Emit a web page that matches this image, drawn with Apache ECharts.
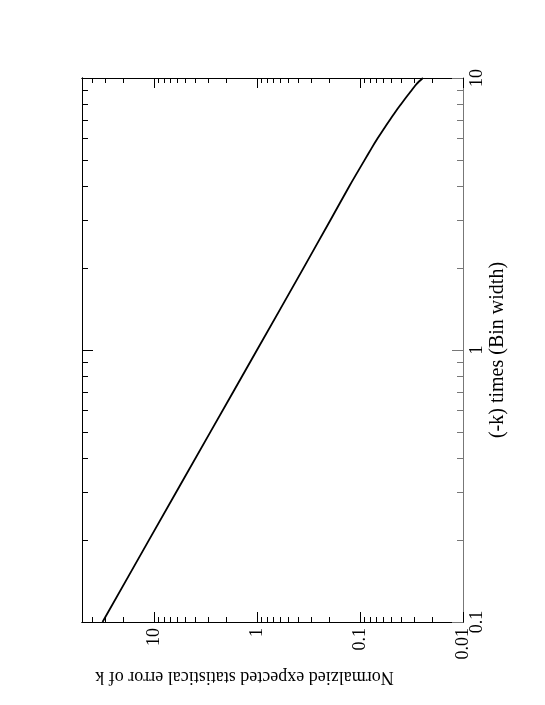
<!DOCTYPE html>
<html>
<head>
<meta charset="utf-8">
<script src="https://cdn.jsdelivr.net/npm/echarts@6/dist/echarts.min.js"></script>
<style>
  html, body { margin: 0; padding: 0; background: #fff; }
  #chart { width: 545px; height: 705px; }
</style>
</head>
<body>
<div id="chart"></div>
<script>
// (-k) times bin width (runs up the page)
var kWidth = [0.1, 0.2, 0.5, 1, 2, 3, 4, 5, 5.5, 6, 6.5, 7, 7.5, 8, 8.5, 9, 9.5, 10];
// normalized expected statistical error of k (runs right to left)
var errK = [31.6, 11.2, 2.83, 1.0, 0.354, 0.194, 0.127, 0.090, 0.0776, 0.0674, 0.0588, 0.0515, 0.0454, 0.0401, 0.0356, 0.0316, 0.0283, 0.0245];

var errMajor = [0.01, 0.1, 1, 10];
var errLabels = ['0.01', '0.1', '1', '10'];
var errMinor = [0.02, 0.03, 0.04, 0.05, 0.06, 0.07, 0.08, 0.09,
                0.2, 0.3, 0.4, 0.5, 0.6, 0.7, 0.8, 0.9,
                2, 3, 4, 5, 6, 7, 8, 9, 20, 30, 40];
var kMajor = [0.1, 1, 10];
var kLabels = ['0.1', '1', '10'];
var kMinor = [0.2, 0.3, 0.4, 0.5, 0.6, 0.7, 0.8, 0.9,
              2, 3, 4, 5, 6, 7, 8, 9];

var font = "'Liberation Serif', 'DejaVu Serif', serif";

var points = [];
for (var i = 0; i < kWidth.length; i++) {
  points.push([errK[i], kWidth[i]]);
}

// horizontal log axis (error), drawn inverted
function errAxis(pos, ticks, len, withLabel) {
  var ax = {
    type: 'log', logBase: 10, min: 0.01, max: 50, inverse: true,
    position: pos,
    splitLine: { show: false },
    axisLine: { show: true, lineStyle: { color: '#000', width: 1 } },
    axisTick: { show: true, inside: true, length: len, customValues: ticks,
                lineStyle: { color: '#000', width: 1 } },
    axisLabel: { show: false }
  };
  if (withLabel) {
    ax.axisLabel = {
      show: true, rotate: 90, margin: 6, customValues: errMajor,
      fontFamily: font, fontSize: 18, color: '#000',
      formatter: function (v) {
        var idx = errMajor.indexOf(+v);
        return idx >= 0 ? errLabels[idx] : '';
      }
    };
    ax.name = 'Normalzied expected statistical error of k';
    ax.nameLocation = 'middle';
    ax.nameRotate = 180;
    ax.nameGap = 46;
    ax.nameMoveOverlap = false;
    ax.nameTextStyle = { fontFamily: font, fontSize: 18, color: '#000', padding: [0, 0, 0, 56] };
  }
  return ax;
}

// vertical log axis ((-k) x bin width)
function kAxis(pos, ticks, len, withLabel) {
  var col = pos === 'right' ? '#777' : '#000';
  var ax = {
    type: 'log', logBase: 10, min: 0.1, max: 10,
    position: pos,
    splitLine: { show: false },
    axisLine: { show: true, lineStyle: { color: col, width: 1 } },
    axisTick: { show: true, inside: true, length: len, customValues: ticks,
                lineStyle: { color: col, width: 1 } },
    axisLabel: { show: false }
  };
  if (withLabel) {
    ax.axisLabel = {
      show: true, rotate: 90, margin: 5, customValues: kMajor,
      fontFamily: font, fontSize: 18, color: '#000',
      formatter: function (v) {
        var idx = kMajor.indexOf(+v);
        return idx >= 0 ? kLabels[idx] : '';
      }
    };
    ax.name = '(-k) times (Bin width)';
    ax.nameLocation = 'middle';
    ax.nameRotate = 90;
    ax.nameGap = 25;
    ax.nameMoveOverlap = false;
    ax.nameTextStyle = { fontFamily: font, fontSize: 20, color: '#000' };
  }
  return ax;
}

var chart = echarts.init(document.getElementById('chart'), null, { renderer: 'canvas' });
chart.setOption({
  backgroundColor: '#fff',
  animation: false,
  grid: { left: 82, right: 82, top: 78, bottom: 83 },
  xAxis: [
    errAxis('bottom', errMajor, 10, true),
    errAxis('bottom', errMinor, 5, false),
    errAxis('top', errMajor, 10, false),
    errAxis('top', errMinor, 5, false)
  ],
  yAxis: [
    kAxis('right', kMajor, 11, true),
    kAxis('right', kMinor, 6, false),
    kAxis('left', kMajor, 11, false),
    kAxis('left', kMinor, 6, false)
  ],
  series: [{
    type: 'line',
    xAxisIndex: 0,
    yAxisIndex: 0,
    data: points,
    showSymbol: false,
    smooth: 0.3,
    lineStyle: { color: '#000', width: 1.8 }
  }]
});
</script>
</body>
</html>
